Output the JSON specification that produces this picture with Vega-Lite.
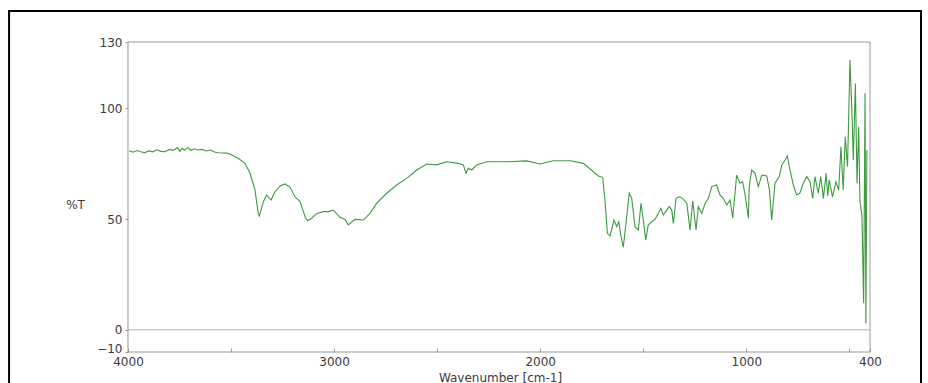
{
  "$schema": "https://vega.github.io/schema/vega-lite/v6.json",
  "width": 928,
  "height": 383,
  "autosize": "none",
  "padding": 0,
  "background": "white",
  "config": {
    "view": {"stroke": null},
    "font": "DejaVu Sans",
    "axis": {
      "domain": false, "grid": false, "labelFlush": false, "labelOverlap": false,
      "labelFont": "DejaVu Sans", "labelFontSize": 12, "labelColor": "#3a3a3a",
      "titleFont": "DejaVu Sans", "titleFontSize": 12, "titleFontWeight": "normal", "titleColor": "#3a3a3a",
      "tickColor": "#999999"
    }
  },
  "datasets": {
    "one": [{"k": 1}],
    "spectrum": [
      {"wn": 3995, "t": 80.9}, {"wn": 3975, "t": 80.2}, {"wn": 3955, "t": 81.0}, {"wn": 3935, "t": 80.3},
      {"wn": 3918, "t": 80.0}, {"wn": 3900, "t": 80.8}, {"wn": 3880, "t": 80.4}, {"wn": 3860, "t": 81.3},
      {"wn": 3840, "t": 80.6}, {"wn": 3820, "t": 80.5}, {"wn": 3800, "t": 81.5}, {"wn": 3780, "t": 81.0},
      {"wn": 3760, "t": 82.3}, {"wn": 3748, "t": 80.6}, {"wn": 3738, "t": 82.0}, {"wn": 3725, "t": 81.2},
      {"wn": 3710, "t": 82.4}, {"wn": 3695, "t": 81.0}, {"wn": 3680, "t": 81.8}, {"wn": 3660, "t": 81.2},
      {"wn": 3641, "t": 81.5}, {"wn": 3620, "t": 80.8}, {"wn": 3600, "t": 81.2}, {"wn": 3580, "t": 80.3},
      {"wn": 3563, "t": 80.0}, {"wn": 3540, "t": 79.9}, {"wn": 3520, "t": 79.8}, {"wn": 3505, "t": 79.4},
      {"wn": 3466, "t": 77.5}, {"wn": 3432, "t": 75.2}, {"wn": 3408, "t": 70.7}, {"wn": 3384, "t": 63.2},
      {"wn": 3368, "t": 52.6}, {"wn": 3363, "t": 51.4}, {"wn": 3343, "t": 57.9}, {"wn": 3327, "t": 60.9},
      {"wn": 3306, "t": 58.6}, {"wn": 3287, "t": 62.4}, {"wn": 3262, "t": 65.0}, {"wn": 3238, "t": 65.9},
      {"wn": 3214, "t": 64.4}, {"wn": 3190, "t": 60.1}, {"wn": 3165, "t": 57.9}, {"wn": 3141, "t": 51.1},
      {"wn": 3128, "t": 49.3}, {"wn": 3109, "t": 50.4}, {"wn": 3084, "t": 52.6}, {"wn": 3052, "t": 53.4},
      {"wn": 3028, "t": 53.4}, {"wn": 3004, "t": 54.1}, {"wn": 2971, "t": 50.8}, {"wn": 2947, "t": 49.9},
      {"wn": 2931, "t": 47.4}, {"wn": 2899, "t": 49.9}, {"wn": 2858, "t": 49.6}, {"wn": 2826, "t": 52.6},
      {"wn": 2793, "t": 57.2}, {"wn": 2745, "t": 61.7}, {"wn": 2696, "t": 65.4}, {"wn": 2648, "t": 68.4},
      {"wn": 2599, "t": 72.2}, {"wn": 2551, "t": 74.9}, {"wn": 2502, "t": 74.5}, {"wn": 2454, "t": 75.9},
      {"wn": 2397, "t": 75.2}, {"wn": 2373, "t": 74.5}, {"wn": 2360, "t": 70.7}, {"wn": 2349, "t": 73.0},
      {"wn": 2332, "t": 72.2}, {"wn": 2308, "t": 74.5}, {"wn": 2260, "t": 75.9}, {"wn": 2163, "t": 75.9},
      {"wn": 2066, "t": 76.3}, {"wn": 2001, "t": 74.9}, {"wn": 1937, "t": 76.4}, {"wn": 1855, "t": 76.4},
      {"wn": 1791, "t": 75.2}, {"wn": 1742, "t": 71.4}, {"wn": 1718, "t": 69.5}, {"wn": 1697, "t": 68.9},
      {"wn": 1686, "t": 58.6}, {"wn": 1674, "t": 43.6}, {"wn": 1661, "t": 42.4}, {"wn": 1642, "t": 49.6},
      {"wn": 1629, "t": 46.6}, {"wn": 1619, "t": 48.8}, {"wn": 1609, "t": 42.8}, {"wn": 1597, "t": 37.3},
      {"wn": 1584, "t": 48.1}, {"wn": 1568, "t": 61.7}, {"wn": 1556, "t": 59.4}, {"wn": 1540, "t": 46.6},
      {"wn": 1524, "t": 45.1}, {"wn": 1511, "t": 57.2}, {"wn": 1500, "t": 49.6}, {"wn": 1488, "t": 40.6},
      {"wn": 1476, "t": 47.4}, {"wn": 1459, "t": 48.8}, {"wn": 1443, "t": 49.9}, {"wn": 1427, "t": 52.6},
      {"wn": 1415, "t": 54.9}, {"wn": 1403, "t": 51.9}, {"wn": 1386, "t": 54.1}, {"wn": 1374, "t": 55.6},
      {"wn": 1362, "t": 54.1}, {"wn": 1354, "t": 48.1}, {"wn": 1341, "t": 59.4}, {"wn": 1325, "t": 60.1},
      {"wn": 1309, "t": 59.4}, {"wn": 1289, "t": 57.2}, {"wn": 1273, "t": 45.1}, {"wn": 1260, "t": 58.3},
      {"wn": 1244, "t": 45.1}, {"wn": 1233, "t": 55.6}, {"wn": 1216, "t": 52.6}, {"wn": 1200, "t": 57.2},
      {"wn": 1184, "t": 59.4}, {"wn": 1168, "t": 64.7}, {"wn": 1144, "t": 65.4}, {"wn": 1128, "t": 60.9},
      {"wn": 1112, "t": 59.4}, {"wn": 1095, "t": 56.4}, {"wn": 1079, "t": 58.6}, {"wn": 1066, "t": 50.4},
      {"wn": 1047, "t": 69.9}, {"wn": 1031, "t": 66.2}, {"wn": 1018, "t": 66.9}, {"wn": 1006, "t": 60.9},
      {"wn": 990, "t": 50.4}, {"wn": 986, "t": 64.7}, {"wn": 974, "t": 72.2}, {"wn": 958, "t": 70.7},
      {"wn": 942, "t": 64.7}, {"wn": 925, "t": 69.9}, {"wn": 901, "t": 69.5}, {"wn": 888, "t": 63.2},
      {"wn": 877, "t": 49.6}, {"wn": 861, "t": 66.2}, {"wn": 840, "t": 69.2}, {"wn": 828, "t": 74.5},
      {"wn": 812, "t": 76.7}, {"wn": 801, "t": 78.5}, {"wn": 788, "t": 72.2}, {"wn": 772, "t": 65.4},
      {"wn": 756, "t": 60.9}, {"wn": 740, "t": 61.7}, {"wn": 724, "t": 66.2}, {"wn": 707, "t": 69.2},
      {"wn": 691, "t": 66.9}, {"wn": 678, "t": 59.4}, {"wn": 667, "t": 69.2}, {"wn": 651, "t": 61.7},
      {"wn": 639, "t": 69.2}, {"wn": 626, "t": 59.4}, {"wn": 613, "t": 70.7}, {"wn": 605, "t": 60.5},
      {"wn": 598, "t": 67.7}, {"wn": 582, "t": 60.1}, {"wn": 565, "t": 66.9}, {"wn": 552, "t": 63.2},
      {"wn": 541, "t": 82.7}, {"wn": 530, "t": 63.2}, {"wn": 520, "t": 87.2}, {"wn": 509, "t": 73.7},
      {"wn": 497, "t": 121.9}, {"wn": 487, "t": 96.3}, {"wn": 481, "t": 76.7}, {"wn": 471, "t": 111.3},
      {"wn": 463, "t": 66.2}, {"wn": 455, "t": 91.7}, {"wn": 449, "t": 58.6}, {"wn": 439, "t": 51.1},
      {"wn": 431, "t": 12.0}, {"wn": 424, "t": 106.8}, {"wn": 420, "t": 3.0}, {"wn": 415, "t": 81.2}
    ]
  },
  "layer": [
    {
      "data": {"name": "one"},
      "mark": {"type": "rect", "filled": false, "stroke": "#000000", "strokeWidth": 2},
      "encoding": {
        "x": {"datum": 4577, "type": "quantitative",
          "scale": {"domain": [118.6, 4621], "reverse": true, "nice": false, "zero": false},
          "axis": {"orient": "bottom", "offset": -31, "values": [4000, 3500, 3000, 2500, 2000, 1500, 1000, 500, 400], "format": "d",
            "labelExpr": "(datum.value % 1000 == 0 || datum.value == 400) ? datum.label : ''",
            "tickSize": -4, "labelPadding": 8,
            "title": "Wavenumber [cm-1]", "titleX": 500, "titleY": 25, "titleAlign": "center", "titleBaseline": "middle"}},
        "x2": {"datum": 152.5},
        "y": {"datum": 144, "type": "quantitative",
          "scale": {"domain": [-24, 148.97], "nice": false, "zero": false},
          "axis": {"orient": "left", "offset": -128, "values": [130, 100, 50, 0, -10], "tickSize": 3, "labelPadding": 3,
            "labelBaseline": {"condition": {"test": "datum.value == -10", "value": "alphabetic"}, "value": "middle"},
            "title": "%T", "titleAngle": 0, "titleX": -53, "titleY": 204, "titleAlign": "center", "titleBaseline": "middle"}},
        "y2": {"datum": -45}
      }
    },
    {
      "data": {"name": "one"},
      "mark": {"type": "rect", "filled": false, "stroke": "#9a9a9a", "strokeWidth": 1},
      "encoding": {
        "x": {"datum": 4000, "type": "quantitative",
          "scale": {"domain": [118.6, 4621], "reverse": true, "nice": false, "zero": false},
          "axis": {"orient": "bottom", "offset": -31, "values": [4000, 3500, 3000, 2500, 2000, 1500, 1000, 500, 400], "format": "d",
            "labelExpr": "(datum.value % 1000 == 0 || datum.value == 400) ? datum.label : ''",
            "tickSize": -4, "labelPadding": 8,
            "title": "Wavenumber [cm-1]", "titleX": 500, "titleY": 25, "titleAlign": "center", "titleBaseline": "middle"}},
        "x2": {"datum": 400},
        "y": {"datum": 130, "type": "quantitative",
          "scale": {"domain": [-24, 148.97], "nice": false, "zero": false},
          "axis": {"orient": "left", "offset": -128, "values": [130, 100, 50, 0, -10], "tickSize": 3, "labelPadding": 3,
            "labelBaseline": {"condition": {"test": "datum.value == -10", "value": "alphabetic"}, "value": "middle"},
            "title": "%T", "titleAngle": 0, "titleX": -53, "titleY": 204, "titleAlign": "center", "titleBaseline": "middle"}},
        "y2": {"datum": -10}
      }
    },
    {
      "data": {"name": "one"},
      "mark": {"type": "rule", "stroke": "#b0b0b0", "strokeWidth": 1},
      "encoding": {
        "x": {"datum": 4000, "type": "quantitative",
          "scale": {"domain": [118.6, 4621], "reverse": true, "nice": false, "zero": false},
          "axis": {"orient": "bottom", "offset": -31, "values": [4000, 3500, 3000, 2500, 2000, 1500, 1000, 500, 400], "format": "d",
            "labelExpr": "(datum.value % 1000 == 0 || datum.value == 400) ? datum.label : ''",
            "tickSize": -4, "labelPadding": 8,
            "title": "Wavenumber [cm-1]", "titleX": 500, "titleY": 25, "titleAlign": "center", "titleBaseline": "middle"}},
        "x2": {"datum": 400},
        "y": {"datum": 0, "type": "quantitative",
          "scale": {"domain": [-24, 148.97], "nice": false, "zero": false},
          "axis": {"orient": "left", "offset": -128, "values": [130, 100, 50, 0, -10], "tickSize": 3, "labelPadding": 3,
            "labelBaseline": {"condition": {"test": "datum.value == -10", "value": "alphabetic"}, "value": "middle"},
            "title": "%T", "titleAngle": 0, "titleX": -53, "titleY": 204, "titleAlign": "center", "titleBaseline": "middle"}}
      }
    },
    {
      "data": {"name": "spectrum"},
      "mark": {"type": "line", "stroke": "#3f9a3f", "strokeWidth": 1.1},
      "encoding": {
        "x": {"field": "wn", "type": "quantitative",
          "scale": {"domain": [118.6, 4621], "reverse": true, "nice": false, "zero": false},
          "axis": {"orient": "bottom", "offset": -31, "values": [4000, 3500, 3000, 2500, 2000, 1500, 1000, 500, 400], "format": "d",
            "labelExpr": "(datum.value % 1000 == 0 || datum.value == 400) ? datum.label : ''",
            "tickSize": -4, "labelPadding": 8,
            "title": "Wavenumber [cm-1]", "titleX": 500, "titleY": 25, "titleAlign": "center", "titleBaseline": "middle"}},
        "y": {"field": "t", "type": "quantitative",
          "scale": {"domain": [-24, 148.97], "nice": false, "zero": false},
          "axis": {"orient": "left", "offset": -128, "values": [130, 100, 50, 0, -10], "tickSize": 3, "labelPadding": 3,
            "labelBaseline": {"condition": {"test": "datum.value == -10", "value": "alphabetic"}, "value": "middle"},
            "title": "%T", "titleAngle": 0, "titleX": -53, "titleY": 204, "titleAlign": "center", "titleBaseline": "middle"}}
      }
    }
  ]
}
